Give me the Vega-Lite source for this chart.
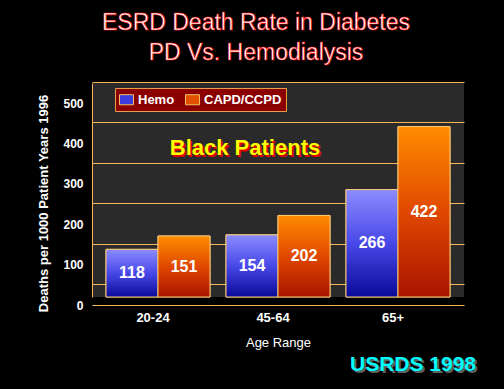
{
  "$schema": "https://vega.github.io/schema/vega-lite/v6.json",
  "width": 372,
  "height": 214,
  "autosize": {"type": "none"},
  "padding": {"left": 92, "top": 83, "right": 40, "bottom": 92},
  "background": "#000000",
  "title": {
    "text": ["ESRD Death Rate in Diabetes", "PD Vs. Hemodialysis"],
    "color": "#ffffff",
    "font": "Liberation Sans",
    "fontSize": 23,
    "fontWeight": "normal",
    "lineHeight": 30,
    "anchor": "middle",
    "frame": "group",
    "dx": -22,
    "offset": 18
  },
  "data": {
    "values": [
      {"age": "20-24", "series": "Hemo", "value": 118},
      {"age": "20-24", "series": "CAPD/CCPD", "value": 151},
      {"age": "45-64", "series": "Hemo", "value": 154},
      {"age": "45-64", "series": "CAPD/CCPD", "value": 202},
      {"age": "65+", "series": "Hemo", "value": 266},
      {"age": "65+", "series": "CAPD/CCPD", "value": 422}
    ]
  },
  "layer": [
    {
      "mark": {"type": "bar", "stroke": "#f8c870", "strokeWidth": 1},
      "encoding": {
        "x": {
          "field": "age",
          "type": "nominal",
          "sort": ["20-24", "45-64", "65+"],
          "scale": {"paddingInner": 0.1333, "paddingOuter": 0.1167},
          "axis": {
            "title": "Age Range",
            "offset": 8,
            "domainColor": "#f5b858",
            "ticks": false,
            "labelAngle": 0,
            "labelColor": "#ffffff",
            "labelFont": "Liberation Sans",
            "labelFontWeight": "bold",
            "labelFontSize": 13,
            "labelPadding": 6,
            "labelOffset": -5,
            "titleColor": "#ffffff",
            "titleFont": "Liberation Sans",
            "titleFontWeight": "normal",
            "titleFontSize": 13,
            "titlePadding": 12
          }
        },
        "xOffset": {
          "field": "series",
          "sort": ["Hemo", "CAPD/CCPD"],
          "scale": {"paddingInner": 0, "paddingOuter": 0}
        },
        "y": {
          "field": "value",
          "type": "quantitative",
          "scale": {"domain": [0, 530], "nice": false},
          "axis": {
            "title": "Deaths per 1000 Patient Years 1996",
            "values": [0, 100, 200, 300, 400, 500],
            "domainColor": "#f5b858",
            "ticks": false,
            "grid": true,
            "gridColor": "#f5b858",
            "gridWidth": 1,
            "tickOffset": -13,
            "labelOffset": 21,
            "labelColor": "#ffffff",
            "labelFont": "Liberation Sans",
            "labelFontWeight": "bold",
            "labelFontSize": 12,
            "labelPadding": 9,
            "titleColor": "#ffffff",
            "titleFont": "Liberation Sans",
            "titleFontWeight": "bold",
            "titleFontSize": 13,
            "titlePadding": 12,
            "titleY": 120
          }
        },
        "color": {
          "field": "series",
          "type": "nominal",
          "sort": ["Hemo", "CAPD/CCPD"],
          "scale": {"domain": ["Hemo", "CAPD/CCPD"], "range": ["#3c3cdc", "#e05000"]},
          "legend": {
            "title": null,
            "orient": "none",
            "legendX": 23,
            "legendY": 5,
            "direction": "horizontal",
            "fillColor": "#8b0000",
            "strokeColor": "#e8a040",
            "padding": 4,
            "labelColor": "#ffffff",
            "labelFont": "Liberation Sans",
            "labelFontWeight": "bold",
            "labelFontSize": 13,
            "symbolType": "M-1,-0.72H1V0.72H-1Z",
            "symbolSize": 196,
            "symbolStrokeColor": "#f0c060",
            "symbolStrokeWidth": 1,
            "columnPadding": 8
          }
        }
      }
    },
    {
      "mark": {"type": "bar", "stroke": "#f8c870", "strokeWidth": 1},
      "encoding": {
        "x": {"field": "age", "type": "nominal", "sort": ["20-24", "45-64", "65+"]},
        "xOffset": {"field": "series", "sort": ["Hemo", "CAPD/CCPD"]},
        "y": {"field": "value", "type": "quantitative"},
        "color": {
          "condition": {
            "test": "datum.series === 'Hemo'",
            "value": {"gradient": "linear", "x1": 0, "y1": 0, "x2": 0, "y2": 1, "stops": [{"offset": 0, "color": "#8c8cff"}, {"offset": 0.5, "color": "#4848e8"}, {"offset": 1, "color": "#0a0a98"}]}
          },
          "value": {"gradient": "linear", "x1": 0, "y1": 0, "x2": 0, "y2": 1, "stops": [{"offset": 0, "color": "#ff8c00"}, {"offset": 0.5, "color": "#e04800"}, {"offset": 1, "color": "#a81400"}]}
        }
      }
    },
    {
      "transform": [{"calculate": "datum.value / 2", "as": "mid"}],
      "mark": {"type": "text", "color": "#ffffff", "font": "Liberation Sans", "fontWeight": "bold", "fontSize": 16},
      "encoding": {
        "x": {"field": "age", "type": "nominal", "sort": ["20-24", "45-64", "65+"]},
        "xOffset": {"field": "series", "sort": ["Hemo", "CAPD/CCPD"]},
        "y": {"field": "mid", "type": "quantitative"},
        "text": {"field": "value"}
      }
    },
    {
      "data": {"values": [{"t": "Black Patients"}]},
      "mark": {"type": "text", "color": "#e00000", "font": "Liberation Sans", "fontWeight": "bold", "fontSize": 22, "dx": -31.5, "dy": 1.5},
      "encoding": {"x": {"datum": "45-64"}, "y": {"datum": 369}, "text": {"field": "t"}}
    },
    {
      "data": {"values": [{"t": "Black Patients"}]},
      "mark": {"type": "text", "color": "#ffff00", "font": "Liberation Sans", "fontWeight": "bold", "fontSize": 22, "dx": -33},
      "encoding": {"x": {"datum": "45-64"}, "y": {"datum": 369}, "text": {"field": "t"}}
    },
    {
      "data": {"values": [{"t": "USRDS 1998"}]},
      "mark": {"type": "text", "color": "#606060", "font": "Liberation Sans", "fontWeight": "bold", "fontSize": 21, "dx": 17, "dy": 2},
      "encoding": {"x": {"datum": "65+"}, "y": {"datum": -168}, "text": {"field": "t"}}
    },
    {
      "data": {"values": [{"t": "USRDS 1998"}]},
      "mark": {"type": "text", "color": "#00ffff", "font": "Liberation Sans", "fontWeight": "bold", "fontSize": 21, "dx": 15},
      "encoding": {"x": {"datum": "65+"}, "y": {"datum": -168}, "text": {"field": "t"}}
    }
  ],
  "config": {
    "view": {"fill": "#2a2a2a", "stroke": null},
    "style": {"group-title": {"stroke": "#ff0000", "strokeWidth": 0.6}}
  }
}
